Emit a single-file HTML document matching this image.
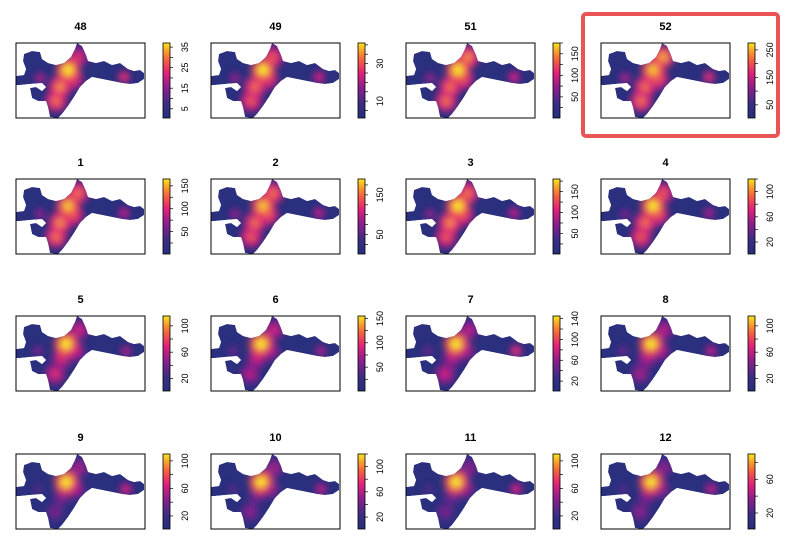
<!DOCTYPE html>
<html><head><meta charset="utf-8"><style>
html,body{margin:0;padding:0;background:#fff}
svg{display:block;font-family:"Liberation Sans",sans-serif}
</style></head><body>
<svg id="chart" width="800" height="543" viewBox="0 0 800 543" xmlns="http://www.w3.org/2000/svg">
<defs>
<linearGradient id="cbar" x1="0" y1="1" x2="0" y2="0">
<stop offset="0" stop-color="#262f7c"/><stop offset="0.18" stop-color="#3a2d86"/>
<stop offset="0.4" stop-color="#8a1f8c"/><stop offset="0.6" stop-color="#e2217a"/>
<stop offset="0.78" stop-color="#f5643e"/><stop offset="0.9" stop-color="#f8a52c"/>
<stop offset="1" stop-color="#fbe81c"/></linearGradient>
<filter id="blur" x="-50%" y="-50%" width="200%" height="200%"><feGaussianBlur stdDeviation="3.5"/></filter>
</defs>
<rect x="583" y="14" width="195" height="122" rx="3" fill="none" stroke="#ea5454" stroke-width="4"/>
</svg>
<script>
const titles = ["48","49","51","52","1","2","3","4","5","6","7","8","9","10","11","12"];
const maxVals = [37,41,175,275,165,190,180,120,115,155,145,115,110,120,110,90];
const minVals = [0.5,1,1,2,1,1,1,1,1,1,1,1,1,1,1,1];
const tickSteps = [5,5,25,50,25,25,25,20,20,25,20,20,20,20,20,20];
const labelSteps = [10,20,50,100,50,100,50,40,40,50,40,40,40,40,40,40];
const labelStarts = [5,10,50,50,50,50,50,20,20,50,20,20,20,20,20,20];
// hotspot intensities (0-1): L1 main, L2 upper stem, L3 mid, L4 lower, L5 centre-right, L6 right arm, L7 left arm
const hotL1 = [1.0,1.0,1.0,0.95,0.95,0.95,1.0,1.0, 1.0,1.0,1.0,1.0, 1.0,1.0,1.0,1.0];
const hotL2 = [0.65,0.75,0.85,0.9,0.8,0.8,0.8,0.75, 0.6,0.6,0.55,0.55, 0.5,0.5,0.45,0.45];
const hotL3 = [0.85,0.8,0.8,0.8,0.85,0.8,0.85,0.8, 0.65,0.6,0.55,0.55, 0.45,0.4,0.4,0.45];
const hotL4 = [0.8,0.75,0.8,0.8,0.8,0.75,0.75,0.75, 0.65,0.55,0.6,0.5, 0.4,0.45,0.4,0.45];
const hotL5 = [0.7,0.7,0.75,0.75,0.75,0.75,0.75,0.75, 0.6,0.55,0.55,0.55, 0.55,0.5,0.5,0.5];
const hotL6 = [0.65,0.6,0.6,0.65,0.55,0.55,0.55,0.5, 0.5,0.5,0.65,0.55, 0.6,0.55,0.6,0.55];
const hotL7 = [0.5,0.45,0.45,0.5,0.45,0.45,0.45,0.4, 0.4,0.35,0.35,0.35, 0.3,0.3,0.3,0.3];

const locs=[[52,27],[62,14],[44,44],[40,58],[57,36],[108,34],[24,35]];
const locsLate=[[50,28],[63,14],[46,42],[39,58],[59,35],[110,35],[22,35]];
const shape=[[0,33],[8,32],[10,26],[7,18],[8,11],[16,8],[24,9],[26,16],[32,20],[40,22],[48,20],[55,14],[59,6],[61,0],[66,3],[70,12],[72,18],[80,20],[88,18],[96,22],[104,20],[112,26],[118,28],[124,27],[128,30],[128,36],[122,40],[114,41],[106,40],[96,38],[86,36],[76,34],[70,38],[64,44],[58,54],[52,63],[46,71],[42,75],[34,74],[32,64],[30,58],[22,58],[16,55],[14,45],[20,44],[26,48],[30,44],[26,40],[14,41],[4,42],[0,42]];
const stops=[[0,[38,47,124]],[0.18,[58,45,134]],[0.4,[138,31,140]],[0.6,[226,33,122]],[0.78,[245,100,62]],[0.9,[248,165,44]],[1,[251,232,28]]];
function col(t){t=Math.max(0,Math.min(1,t));for(let i=1;i<stops.length;i++){if(t<=stops[i][0]){const a=stops[i-1],b=stops[i],f=(t-a[0])/(b[0]-a[0]);return 'rgb('+a[1].map((v,k)=>Math.round(v+(b[1][k]-v)*f)).join(',')+')';}}return 'rgb(251,232,28)';}
const NS="http://www.w3.org/2000/svg";
const svg=document.getElementById('chart');
const defs=svg.querySelector('defs');
function mk(tag,attrs,parent){const e=document.createElementNS(NS,tag);for(const k in attrs)e.setAttribute(k,attrs[k]);(parent||svg).appendChild(e);return e;}
const colX=[16,211,406,601], rowY=[43,179,316,454], W=129, H=75;
const pts=shape.map(p=>p.join(',')).join(' ');
titles.forEach((t,i)=>{
  const x0=colX[i%4], y0=rowY[Math.floor(i/4)];
  const g=mk('g',{transform:'translate('+x0+','+y0+')'});
  
  
  const title=mk('text',{x:W/2,y:-13,'text-anchor':'middle','font-size':'11','font-weight':'bold',fill:'#000'},g);
  title.textContent=t;
  
  
  const cp=mk('clipPath',{id:'clip'+i},defs);
  mk('polygon',{points:pts},cp);
  const map=mk('g',{'clip-path':'url(#clip'+i+')'},g);
  
  
  mk('polygon',{points:pts,fill:col(0.04)},map);
  const hb=mk('g',{filter:'url(#blur)'},map);
  const hv=[hotL1[i],hotL2[i],hotL3[i],hotL4[i],hotL5[i],hotL6[i],hotL7[i]];
  const L=i<8?locs:locsLate;
  const order=hv.map((v,k)=>k).sort((a,b)=>hv[a]-hv[b]);
  order.forEach(k=>{
    const v=hv[k];
    const small=(k==5||k==6);
    mk('circle',{cx:L[k][0],cy:L[k][1],r:(small?7:11)*(0.6+0.5*v),fill:col(v*0.72),opacity:0.95},hb);
  });
  order.forEach(k=>{
    const v=hv[k];
    mk('circle',{cx:L[k][0],cy:L[k][1],r:4.5*v+1,fill:col(v),opacity:1},hb);
  });
  const box=mk('rect',{x:0,y:0,width:W,height:H,fill:'none',stroke:'#000','stroke-width':1},g);
  
  
  const cb=mk('g',{transform:'translate(147,0)'},g);
  
  
  mk('rect',{x:0,y:0,width:7,height:H,fill:'url(#cbar)',stroke:'#000','stroke-width':0.8},cb);
  const mn=minVals[i], mx=maxVals[i];
  const yS=v=>H-(v-mn)/(mx-mn)*H;
  for(let v=Math.ceil(mn/tickSteps[i])*tickSteps[i]; v<=mx; v+=tickSteps[i]){
    if(v<mn) continue;
    mk('line',{x1:7,x2:10,y1:yS(v),y2:yS(v),stroke:'#000','stroke-width':0.7},cb);
  }
  for(let v=labelStarts[i]; v<=mx; v+=labelSteps[i]){
    const y=yS(v);
    const lb=mk('text',{x:0,y:0,transform:'translate(25,'+y+') rotate(-90)','text-anchor':'middle','font-size':'9',fill:'#000'},cb);
    lb.textContent=String(v);
    
    
  }
});
</script>
</body></html>
